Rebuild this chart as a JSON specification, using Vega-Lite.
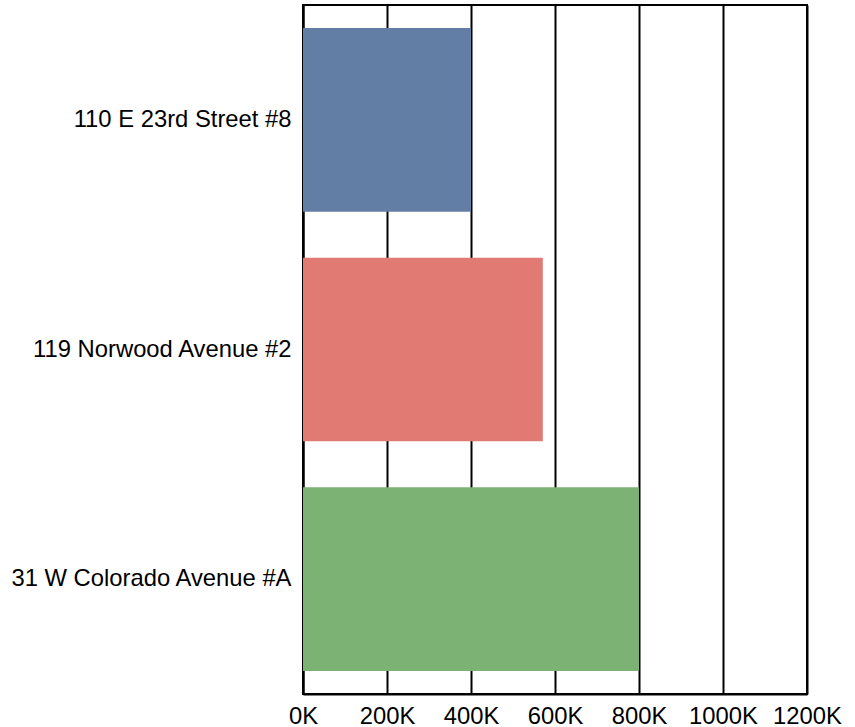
{
  "$schema": "https://vega.github.io/schema/vega-lite/v6.json",
  "width": 504,
  "height": 689,
  "autosize": {"type": "none"},
  "padding": {"left": 303, "top": 5, "right": 48, "bottom": 33},
  "background": "white",
  "config": {
    "view": {"stroke": "black", "strokeWidth": 2},
    "font": "Liberation Sans"
  },
  "data": {
    "values": [
      {"address": "110 E 23rd Street #8", "price": 400000},
      {"address": "119 Norwood Avenue #2", "price": 571000},
      {"address": "31 W Colorado Avenue #A", "price": 800000}
    ]
  },
  "mark": {"type": "bar"},
  "encoding": {
    "y": {
      "field": "address",
      "type": "nominal",
      "sort": null,
      "scale": {"paddingInner": 0.2, "paddingOuter": 0.1},
      "axis": {
        "title": null,
        "ticks": false,
        "tickSize": 0,
        "labelPadding": 12,
        "labelFontSize": 23.8,
        "labelColor": "black",
        "labelFont": "Liberation Sans",
        "domainColor": "black",
        "domainWidth": 2,
        "grid": false,
        "labelLimit": 400
      }
    },
    "x": {
      "field": "price",
      "type": "quantitative",
      "scale": {"domain": [0, 1200000], "nice": false},
      "axis": {
        "title": null,
        "values": [0, 200000, 400000, 600000, 800000, 1000000, 1200000],
        "labelExpr": "format(datum.value / 1000, 'd') + 'K'",
        "ticks": false,
        "tickSize": 0,
        "labelPadding": 10,
        "labelFontSize": 23.8,
        "labelColor": "black",
        "labelFont": "Liberation Sans",
        "labelOverlap": false,
        "labelFlush": false,
        "domainColor": "black",
        "domainWidth": 2,
        "grid": true,
        "gridColor": "black",
        "gridWidth": 2,
        "gridOpacity": 1
      }
    },
    "color": {
      "field": "address",
      "type": "nominal",
      "sort": null,
      "scale": {
        "domain": ["110 E 23rd Street #8", "119 Norwood Avenue #2", "31 W Colorado Avenue #A"],
        "range": ["#627ea5", "#e07a73", "#7cb375"]
      },
      "legend": null
    }
  }
}
